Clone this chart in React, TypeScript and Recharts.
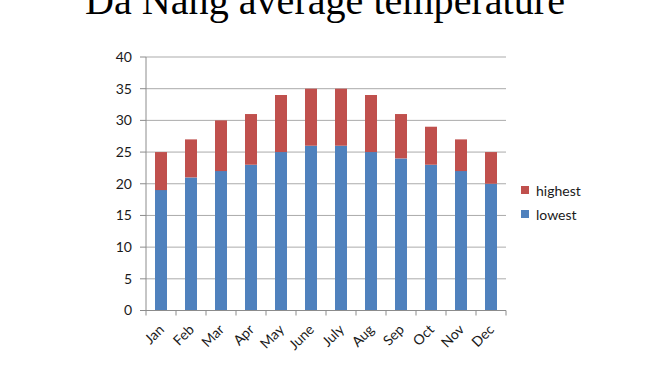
import { BarChart, Bar, XAxis, YAxis, CartesianGrid } from 'recharts'

const MONTHS = ['Jan', 'Feb', 'Mar', 'Apr', 'May', 'June', 'July', 'Aug', 'Sep', 'Oct', 'Nov', 'Dec']
const HIGHEST = [25, 27, 30, 31, 34, 35, 35, 34, 31, 29, 27, 25]
const LOWEST = [19, 21, 22, 23, 25, 26, 26, 25, 24, 23, 22, 20]
const Y_TICKS = [0, 5, 10, 15, 20, 25, 30, 35, 40]
const SERIES = [
  { key: 'highest', label: 'highest' },
  { key: 'lowest', label: 'lowest' },
]

const COLORS: Record<string, string> = {
  lowest: '#4f81bd',
  highest: '#c0504d',
  grid: '#ababab',
  axis: '#8c8c8c',
  text: '#1a1a1a',
}

const FONT = 'Lato, "Open Sans", sans-serif'
const W = 653
const H = 374
const MARGIN = { top: 57, right: 147, bottom: 3.5, left: 106 }
const Y_AXIS_W = 40
const PLOT_W = W - MARGIN.left - MARGIN.right - Y_AXIS_W
const HALF_BAND = PLOT_W / MONTHS.length / 2

// highest is stacked on top of lowest, so the red part is the difference
const data = MONTHS.map((month, i) => ({
  month,
  lowest: LOWEST[i],
  highest: HIGHEST[i] - LOWEST[i],
}))

// eslint-disable-next-line @typescript-eslint/no-explicit-any
function MonthTick({ x, y, payload, index }: any) {
  const tx = x + 4
  const ty = y + 20
  return (
    <g>
      <line x1={x - HALF_BAND} y1={y} x2={x - HALF_BAND} y2={y + 5} stroke={COLORS.axis} />
      {index === MONTHS.length - 1 && (
        <line x1={x + HALF_BAND} y1={y} x2={x + HALF_BAND} y2={y + 5} stroke={COLORS.axis} />
      )}
      <text
        x={tx}
        y={ty}
        textAnchor="end"
        transform={`rotate(-45, ${tx}, ${ty})`}
        fontSize={14}
        fontFamily={FONT}
        fill={COLORS.text}
      >
        {payload.value}
      </text>
    </g>
  )
}

export default function App() {
  return (
    <div style={{ position: 'absolute', left: 0, top: 0, width: W, height: H, background: '#fff', overflow: 'hidden' }}>
      <svg width={W} height={H} style={{ position: 'absolute', left: 0, top: 0, pointerEvents: 'none' }}>
        <text
          x={85}
          y={14}
          textLength={480}
          lengthAdjust="spacingAndGlyphs"
          fontSize={40}
          fontFamily='"Liberation Serif", "DejaVu Serif", serif'
          fill="#000"
        >
          Da Nang average temperature
        </text>
      </svg>
      <BarChart width={W} height={H} data={data} margin={MARGIN} barSize={12}>
        <CartesianGrid vertical={false} stroke={COLORS.grid} />
        <XAxis
          dataKey="month"
          height={60}
          interval={0}
          tickLine={false}
          tickSize={0}
          tickMargin={0}
          axisLine={{ stroke: COLORS.axis }}
          tick={<MonthTick />}
        />
        <YAxis
          width={Y_AXIS_W}
          domain={[0, 40]}
          ticks={Y_TICKS}
          interval={0}
          tickSize={6}
          tickMargin={8}
          tickLine={{ stroke: COLORS.axis }}
          axisLine={{ stroke: COLORS.axis }}
          tick={{ fontSize: 14, fontFamily: FONT, fill: COLORS.text }}
        />
        <Bar dataKey="lowest" name="lowest" stackId="t" fill={COLORS.lowest} isAnimationActive={false} />
        <Bar dataKey="highest" name="highest" stackId="t" fill={COLORS.highest} isAnimationActive={false} />
      </BarChart>
      <div
        style={{
          position: 'absolute', left: 521, top: 178,
          fontFamily: FONT, fontSize: 14, color: COLORS.text,
        }}
      >
        {SERIES.map((s) => (
          <div key={s.key} style={{ display: 'flex', alignItems: 'center', height: 24 }}>
            <span style={{ display: 'inline-block', width: 8, height: 8, background: COLORS[s.key], marginRight: 7 }} />
            {s.label}
          </div>
        ))}
      </div>
    </div>
  )
}
